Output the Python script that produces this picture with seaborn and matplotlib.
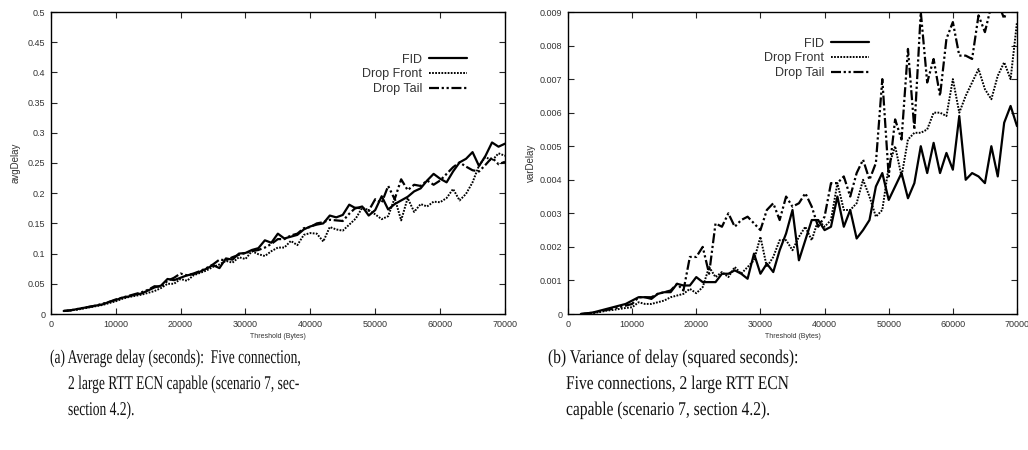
import numpy as np
import pandas as pd
import matplotlib
matplotlib.use("Agg")
import matplotlib.pyplot as plt
import matplotlib.patheffects as pe
from matplotlib.transforms import Affine2D
import seaborn as sns

# ---------------- data ----------------
threshold = list(range(2000, 70001, 1000))

avg_fid = [0.005, 0.006, 0.008, 0.010, 0.012, 0.014, 0.016, 0.020, 0.023, 0.027,
           0.029, 0.032, 0.034, 0.039, 0.044, 0.047, 0.058, 0.056, 0.060, 0.064,
           0.066, 0.070, 0.075, 0.081, 0.076, 0.092, 0.090, 0.100, 0.101, 0.106,
           0.109, 0.122, 0.118, 0.133, 0.125, 0.128, 0.131, 0.140, 0.145, 0.148,
           0.150, 0.163, 0.160, 0.164, 0.181, 0.175, 0.178, 0.163, 0.172, 0.195,
           0.173, 0.182, 0.188, 0.194, 0.203, 0.208, 0.221, 0.232, 0.224, 0.218,
           0.236, 0.251, 0.257, 0.268, 0.245, 0.262, 0.284, 0.277, 0.282]
avg_front = [0.005, 0.006, 0.007, 0.009, 0.011, 0.013, 0.015, 0.018, 0.021, 0.025,
             0.028, 0.030, 0.032, 0.035, 0.038, 0.043, 0.050, 0.050, 0.058, 0.055,
             0.064, 0.068, 0.072, 0.078, 0.082, 0.088, 0.085, 0.094, 0.091, 0.104,
             0.099, 0.096, 0.104, 0.110, 0.110, 0.121, 0.114, 0.131, 0.134, 0.133,
             0.120, 0.144, 0.140, 0.138, 0.148, 0.158, 0.176, 0.172, 0.165, 0.157,
             0.162, 0.192, 0.155, 0.192, 0.169, 0.182, 0.178, 0.186, 0.185, 0.192,
             0.207, 0.188, 0.199, 0.218, 0.246, 0.260, 0.254, 0.266, 0.262]
avg_tail = [0.005, 0.006, 0.008, 0.010, 0.012, 0.014, 0.017, 0.020, 0.024, 0.027,
            0.030, 0.033, 0.036, 0.040, 0.046, 0.045, 0.055, 0.060, 0.067, 0.064,
            0.067, 0.071, 0.076, 0.082, 0.090, 0.089, 0.094, 0.098, 0.101, 0.104,
            0.106, 0.110, 0.116, 0.124, 0.124, 0.130, 0.133, 0.142, 0.144, 0.150,
            0.152, 0.156, 0.155, 0.154, 0.166, 0.176, 0.175, 0.171, 0.190, 0.184,
            0.212, 0.190, 0.223, 0.205, 0.214, 0.212, 0.221, 0.214, 0.221, 0.232,
            0.243, 0.251, 0.244, 0.238, 0.236, 0.247, 0.259, 0.248, 0.252]

var_fid = [0.0, 0.00002, 0.00005, 0.0001, 0.00015, 0.0002, 0.00025, 0.0003, 0.0004, 0.0005,
           0.0005, 0.00045, 0.0006, 0.00065, 0.00065, 0.0009, 0.00085, 0.00085, 0.0011, 0.00095,
           0.00095, 0.00095, 0.0012, 0.0012, 0.0013, 0.0012, 0.00105, 0.0018, 0.0012, 0.0015,
           0.00125, 0.0019, 0.0024, 0.0031, 0.0016, 0.0022, 0.0028, 0.0028, 0.0025, 0.0026,
           0.0035, 0.0026, 0.0031, 0.00225, 0.0025, 0.0028, 0.0038, 0.0042, 0.0034, 0.0038,
           0.0042, 0.00345, 0.0039, 0.0050, 0.0042, 0.0051, 0.0042, 0.0048, 0.0043, 0.0059,
           0.0040, 0.0042, 0.0041, 0.0039, 0.0050, 0.0041, 0.0057, 0.0062, 0.0056]
var_front = [0.0, 0.00001, 0.00003, 0.00006, 0.0001, 0.00012, 0.00015, 0.00018, 0.0002, 0.00035,
             0.0003, 0.0003, 0.00035, 0.0004, 0.0005, 0.00055, 0.0006, 0.00075, 0.00062, 0.0008,
             0.0014, 0.0011, 0.00125, 0.0011, 0.0014, 0.0012, 0.0014, 0.0016, 0.0023, 0.0014,
             0.0017, 0.0022, 0.0022, 0.0019, 0.0023, 0.0026, 0.0022, 0.0028, 0.0026, 0.0028,
             0.0039, 0.0031, 0.0031, 0.0033, 0.0040, 0.0035, 0.0029, 0.0031, 0.0044, 0.0050,
             0.0041, 0.0052, 0.0054, 0.0054, 0.0055, 0.0060, 0.0060, 0.0059, 0.0070, 0.0060,
             0.0065, 0.0069, 0.0073, 0.0067, 0.0064, 0.0071, 0.0075, 0.0070, 0.0087]
var_tail = [0.0, 0.00002, 0.00004, 0.00008, 0.00012, 0.00016, 0.0002, 0.00025, 0.0003, 0.0005,
            0.0005, 0.0005, 0.0006, 0.00065, 0.0007, 0.0009, 0.0007, 0.0017, 0.0017, 0.0020,
            0.0012, 0.0027, 0.0026, 0.0030, 0.0026, 0.0028, 0.0029, 0.0027, 0.0025, 0.0031,
            0.0033, 0.0028, 0.0035, 0.0032, 0.0033, 0.0036, 0.0032, 0.0026, 0.0029, 0.0039,
            0.0039, 0.0041, 0.0035, 0.0042, 0.0046, 0.0040, 0.0045, 0.0070, 0.0041, 0.0058,
            0.0052, 0.0079, 0.0055, 0.0090, 0.0069, 0.0076, 0.0065, 0.0082, 0.0087, 0.0077,
            0.0077, 0.0076, 0.0089, 0.0084, 0.0092, 0.0093, 0.0088, 0.0095, 0.0095]

series_names = ["FID", "Drop Front", "Drop Tail"]
x_ticks = [0, 10000, 20000, 30000, 40000, 50000, 60000, 70000]
avg_ticks = [0, 0.05, 0.1, 0.15, 0.2, 0.25, 0.3, 0.35, 0.4, 0.45, 0.5]
var_ticks = [0, 0.001, 0.002, 0.003, 0.004, 0.005, 0.006, 0.007, 0.008, 0.009]

caption_a = ["(a) Average delay (seconds):  Five connection,",
             "2 large RTT ECN capable (scenario 7, sec-",
             "section 4.2)."]
caption_b = ["(b) Variance of delay (squared seconds):",
             "Five connections, 2 large RTT ECN",
             "capable (scenario 7, section 4.2)."]

# ---------------- styling ----------------
sns.set_style("ticks")
plt.rcParams["font.family"] = ["Liberation Sans", "DejaVu Sans"]

W, H = 1028, 450
fig = plt.figure(figsize=(W / 100, H / 100), dpi=100)

styles = {
    "FID": dict(linestyle="-", linewidth=1.6),
    "Drop Front": dict(linestyle=(0, (0.9, 0.7)), linewidth=1.4),
    "Drop Tail": dict(linestyle=(0, (4.5, 1.2, 1.0, 1.2, 1.0, 1.2)), linewidth=1.6),
}
text_grey = "#333333"


def make_frame(a, b, c):
    return pd.DataFrame({
        "threshold": threshold * 3,
        "value": a + b + c,
        "series": ["FID"] * len(a) + ["Drop Front"] * len(b) + ["Drop Tail"] * len(c),
    })


def draw_panel(rect, df, yticks, ylabel, legend_anchor, ylabel_pad):
    ax = fig.add_axes(rect)
    for name in series_names:
        sub = df[df["series"] == name]
        sns.lineplot(data=sub, x="threshold", y="value", ax=ax, color="black",
                     label=name, estimator=None, sort=False, **styles[name])
    ax.set_xlim(0, 70000)
    ax.set_ylim(yticks[0], yticks[-1])
    ax.set_xticks(x_ticks)
    ax.set_xticklabels([str(t) for t in x_ticks])
    ax.set_yticks(yticks)
    ax.set_yticklabels(["0"] + [("%g" % t) for t in yticks[1:]])
    ax.tick_params(direction="in", length=4, width=0.8, top=True, right=True,
                   labelsize=6.5, labelcolor=text_grey, pad=4)
    for sp in ax.spines.values():
        sp.set_linewidth(1.0)
        sp.set_color("black")
        sp.set_visible(True)
    ax.set_xlabel("Threshold (Bytes)", fontsize=5, color=text_grey, labelpad=3)
    ax.set_ylabel(ylabel, fontsize=7, color=text_grey, labelpad=ylabel_pad)
    leg = ax.legend(loc="upper right", bbox_to_anchor=legend_anchor, frameon=False,
                    markerfirst=False, fontsize=9, handlelength=3.0,
                    handletextpad=0.55, labelspacing=0.22, borderpad=0, borderaxespad=0)
    for t in leg.get_texts():
        t.set_color(text_grey)
    return ax


ax_l = draw_panel([50.7 / W, 1 - 314 / H, (505 - 50.7) / W, (314 - 12) / H],
                  make_frame(avg_fid, avg_front, avg_tail), avg_ticks, "avgDelay",
                  (0.916, 0.862), 5)
ax_r = draw_panel([568 / W, 1 - 314 / H, (1017 - 568) / W, (314 - 12) / H],
                  make_frame(var_fid, var_front, var_tail), var_ticks, "varDelay",
                  (0.67, 0.915), 3)


# ---------------- captions (condensed Times-style text) ----------------
class Condense(pe.AbstractPathEffect):
    """Squeeze glyph outlines horizontally about a fixed pixel column."""

    def __init__(self, x0, sx):
        super().__init__()
        self.x0 = x0
        self.sx = sx

    def draw_path(self, renderer, gc, tpath, affine, rgbFace=None):
        squeeze = Affine2D().translate(-self.x0, 0).scale(self.sx, 1).translate(self.x0, 0)
        renderer.draw_path(gc, tpath, affine + squeeze, rgbFace)


cap_font = dict(family=["Liberation Serif", "DejaVu Serif"], size=14, color="#111111")
baselines = [363, 389, 415]
fig.canvas.draw()
renderer = fig.canvas.get_renderer()
for lines, x_first, x_rest in [(caption_a, 50, 68), (caption_b, 548, 566)]:
    block = []
    for i, line in enumerate(lines):
        x_px = x_first if i == 0 else x_rest
        t = fig.text(x_px / W, 1 - baselines[i] / H, line, ha="left", va="baseline", **cap_font)
        block.append((t, x_px))
    # first line of each caption spans 252 px
    sx = 252.0 / block[0][0].get_window_extent(renderer).width
    for t, x_px in block:
        t.set_path_effects([Condense(x_px, sx)])

fig.savefig("out.png", dpi=100)
